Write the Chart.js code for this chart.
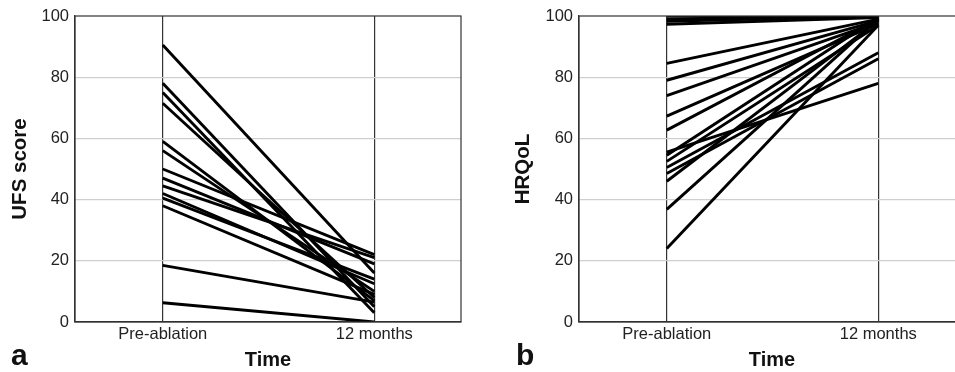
<!DOCTYPE html>
<html>
<head>
<meta charset="utf-8">
<script src="https://cdn.jsdelivr.net/npm/chart.js@4.4.0/dist/chart.umd.min.js"></script>
<style>
  html, body { margin:0; padding:0; background:#fff; width:955px; height:372px; overflow:hidden; position:relative; }
  #wrapA { position:absolute; left:0; top:0; width:480px; height:372px; }
  #wrapB { position:absolute; left:480px; top:0; width:520px; height:372px; }
  .plabel { position:absolute; font-family:"Liberation Sans", Arial, sans-serif; font-weight:bold; font-size:30px; color:#111; line-height:1; }
</style>
</head>
<body>
<div id="wrapA"><canvas id="chartA" width="480" height="372"></canvas></div>
<div id="wrapB"><canvas id="chartB" width="520" height="372"></canvas></div>
<div class="plabel" style="left:11px; top:340px;">a</div>
<div class="plabel" style="left:516px; top:340px;">b</div>
<script>
// ---- data ----
const timeLabels = ["Pre-ablation", "12 months"];
const yTicks = [0, 20, 40, 60, 80, 100];

const ufsPre  = [90.5, 78, 75, 71.5, 59, 56, 50, 47, 44.5, 42, 40.5, 38, 18.5, 6.3];
const ufsPost = [16,   5,  3,  8,    7,  10, 22, 19, 21,   12.5, 14, 9, 6.5, 0];

const hrqolPre  = [100, 99, 98.3, 97.3, 84.5, 79, 74, 67.3, 62.7, 55.5, 54.5, 52.5, 50.5, 48.5, 46, 36.8, 24];
const hrqolPost = [100, 100, 100, 99.5, 99, 98.5, 98, 97.5, 99, 78, 99.5, 97, 88, 86, 98.5, 99, 97];

// ---- helpers ----
const FONT = '"Liberation Sans", Arial, Helvetica, sans-serif';

const borderPlugin = {
  id: 'areaBorder',
  afterDatasetsDraw(chart) {
    const {ctx, chartArea: a} = chart;
    ctx.save();
    ctx.strokeStyle = '#333';
    ctx.lineWidth = 1.2;
    ctx.strokeRect(a.left, a.top, a.right - a.left, a.bottom - a.top);
    ctx.restore();
  }
};

function makeDatasets(pre, post) {
  return pre.map((v, i) => ({
    data: [{x: 0, y: v}, {x: 1, y: post[i]}],
    borderColor: '#000',
    borderWidth: 2.9,
    pointRadius: 0,
    fill: false,
    tension: 0
  }));
}

function makeChart(id, pre, post, yTitle, yAxisWidth, rightPad, yTitlePad) {
  return new Chart(document.getElementById(id), {
    type: 'line',
    data: { datasets: makeDatasets(pre, post) },
    plugins: [borderPlugin],
    options: {
      responsive: false,
      animation: false,
      layout: { padding: { left: 0, right: rightPad, top: 16, bottom: 0 } },
      plugins: { legend: { display: false }, tooltip: { enabled: false } },
      scales: {
        x: {
          type: 'linear',
          min: -0.415,
          max: 1.41,
          afterBuildTicks(scale) { scale.ticks = timeLabels.map((_, i) => ({ value: i })); },
          afterFit(scale) { scale.height = 50; },
          ticks: {
            callback: (v) => timeLabels[v],
            font: { family: FONT, size: 16.5 },
            color: '#222',
            padding: 3,
            maxRotation: 0,
            autoSkip: false
          },
          grid: { color: '#333', lineWidth: 1.2, drawTicks: false },
          border: { display: true, color: '#333', width: 1.2 },
          title: {
            display: true,
            text: 'Time',
            font: { family: FONT, size: 20, weight: 'bold' },
            color: '#111',
            padding: { top: 0, bottom: 0 }
          }
        },
        y: {
          min: 0,
          max: 100,
          afterBuildTicks(scale) { scale.ticks = yTicks.map(v => ({ value: v })); },
          afterFit(scale) { scale.width = yAxisWidth; },
          ticks: {
            font: { family: FONT, size: 16.5 },
            color: '#222',
            padding: 6
          },
          grid: {
            color: (c) => (c.tick && (c.tick.value === 0 || c.tick.value === 100)) ? 'rgba(0,0,0,0)' : '#cfcfcf',
            lineWidth: 1.2,
            drawTicks: false
          },
          border: { display: true, color: '#333', width: 1.2 },
          title: {
            display: true,
            text: yTitle,
            font: { family: FONT, size: 20.5, weight: 'bold' },
            color: '#111',
            padding: { top: yTitlePad, bottom: 0 }
          }
        }
      }
    }
  });
}

makeChart('chartA', ufsPre, ufsPost, 'UFS score', 75, 19, 8.5);
makeChart('chartB', hrqolPre, hrqolPost, 'HRQoL', 99, 35, 31.5);
</script>
</body>
</html>
